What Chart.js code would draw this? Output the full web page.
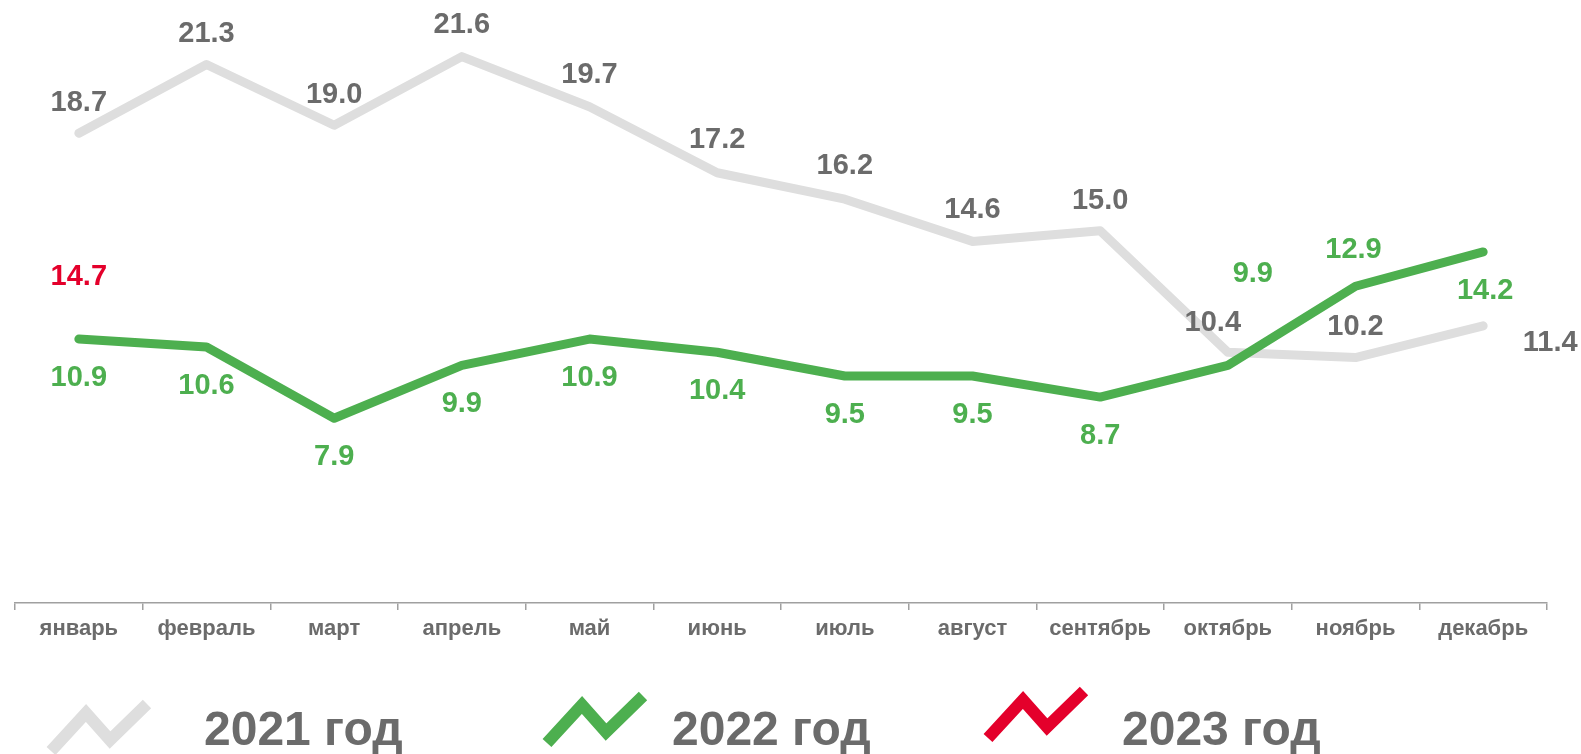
<!DOCTYPE html>
<html>
<head>
<meta charset="utf-8">
<script src="https://cdn.jsdelivr.net/npm/chart.js@4/dist/chart.umd.min.js"></script>
<style>
  html, body { margin: 0; padding: 0; background: #ffffff; }
  #wrap { width: 1581px; height: 754px; }
</style>
</head>
<body>
<div id="wrap"><canvas id="c" width="1581" height="754"></canvas></div>
<script>
// ---- data ----
const months = ['январь','февраль','март','апрель','май','июнь','июль','август','сентябрь','октябрь','ноябрь','декабрь'];
const seriesNames = ['2021 год', '2022 год', '2023 год'];
const values2021 = [18.7, 21.3, 19.0, 21.6, 19.7, 17.2, 16.2, 14.6, 15.0, 10.4, 10.2, 11.4];
const values2022 = [10.9, 10.6, 7.9, 9.9, 10.9, 10.4, 9.5, 9.5, 8.7, 9.9, 12.9, 14.2];
const values2023 = [14.7, null, null, null, null, null, null, null, null, null, null, null];

// ---- styles ----
const GRAY_LINE = '#dedede';
const GREEN = '#4daf4f';
const RED = '#e4002b';
const TEXT_GRAY = '#6b6b6b';
const FONT = '"Liberation Sans", Arial, sans-serif';

// label offsets (style only): [dx, dy] relative to each point
const off2021 = [[0,-30],[0,-31],[0,-30],[0,-32],[0,-32],[0,-33],[0,-33],[0,-31],[0,-30],[-15,-29],[0,-31],[67,17]];
const off2022 = [[0,39],[0,39],[0,39],[0,39],[0,39],[0,39],[0,39],[0,39],[0,39],[25,-91],[-2,-36],[2,39]];
const off2023 = [[0,38]];

const labelPlugin = {
  id: 'pointLabels',
  afterDatasetsDraw(chart) {
    const ctx = chart.ctx;
    ctx.save();
    ctx.font = 'bold 29px ' + FONT;
    ctx.textAlign = 'center';
    ctx.textBaseline = 'middle';
    chart.data.datasets.forEach((ds, di) => {
      const meta = chart.getDatasetMeta(di);
      meta.data.forEach((pt, i) => {
        const v = ds.data[i];
        if (v === null || v === undefined) return;
        const o = (ds.labelOffsets && ds.labelOffsets[i]) || [0, 0];
        ctx.fillStyle = ds.labelColor;
        ctx.fillText(v.toFixed(1), pt.x + o[0], pt.y + o[1]);
      });
    });
    ctx.restore();
  }
};

const legendPlugin = {
  id: 'zigLegend',
  afterDraw(chart) {
    const ctx = chart.ctx;
    const items = [
      { color: GRAY_LINE, sx: 51, sy: 751, tx: 204 },
      { color: GREEN, sx: 547, sy: 743, tx: 672 },
      { color: RED, sx: 988, sy: 738, tx: 1122 }
    ];
    const shape = [[0,0],[35,-38],[59,-11],[96,-47]];
    ctx.save();
    items.forEach((it, k) => {
      ctx.beginPath();
      shape.forEach((p, j) => {
        const x = it.sx + p[0], y = it.sy + p[1];
        if (j === 0) ctx.moveTo(x, y); else ctx.lineTo(x, y);
      });
      ctx.strokeStyle = it.color;
      ctx.lineWidth = 12;
      ctx.lineJoin = 'miter';
      ctx.lineCap = 'butt';
      ctx.stroke();
      ctx.fillStyle = TEXT_GRAY;
      ctx.font = 'bold 48px ' + FONT;
      ctx.textAlign = 'left';
      ctx.textBaseline = 'alphabetic';
      ctx.fillText(seriesNames[k], it.tx, 745);
    });
    ctx.restore();
  }
};

new Chart(document.getElementById('c'), {
  type: 'line',
  data: {
    labels: months,
    datasets: [
      {
        label: seriesNames[0], data: values2021,
        borderColor: GRAY_LINE, borderWidth: 9, pointRadius: 0, tension: 0,
        borderCapStyle: 'round', borderJoinStyle: 'round',
        labelColor: TEXT_GRAY, labelOffsets: off2021, clip: false, order: 3
      },
      {
        label: seriesNames[1], data: values2022,
        borderColor: GREEN, borderWidth: 9, pointRadius: 0, tension: 0,
        borderCapStyle: 'round', borderJoinStyle: 'round',
        labelColor: GREEN, labelOffsets: off2022, clip: false, order: 2
      },
      {
        label: seriesNames[2], data: values2023,
        borderColor: 'rgba(0,0,0,0)', borderWidth: 0, pointRadius: 0, tension: 0,
        showLine: false,
        labelColor: RED, labelOffsets: off2023, clip: false, order: 1
      }
    ]
  },
  options: {
    responsive: false,
    devicePixelRatio: 1,
    animation: false,
    events: [],
    layout: { padding: { top: 40, left: 15, right: 34, bottom: 0 } },
    plugins: { legend: { display: false }, tooltip: { enabled: false } },
    scales: {
      x: {
        type: 'category',
        offset: true,
        grid: { offset: true, drawOnChartArea: false, drawTicks: true, tickLength: 7, color: '#a0a0a0', lineWidth: 1.5 },
        border: { display: true, color: '#a0a0a0', width: 1.5 },
        ticks: { color: TEXT_GRAY, padding: 6, maxRotation: 0, autoSkip: false, font: { family: FONT, size: 22, weight: 'bold' } },
        afterFit(scale) { scale.height = 151; }
      },
      y: { display: false, min: 0.9, max: 22.23 }
    }
  },
  plugins: [labelPlugin, legendPlugin]
});
</script>
</body>
</html>
